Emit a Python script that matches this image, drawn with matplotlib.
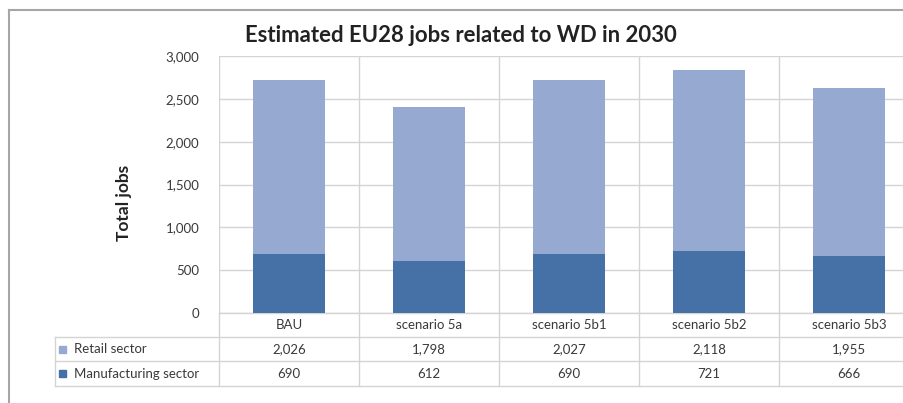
import matplotlib.pyplot as plt
from matplotlib.lines import Line2D
from matplotlib.patches import Rectangle

categories = ['BAU', 'scenario 5a', 'scenario 5b1', 'scenario 5b2', 'scenario 5b3']
retail = [2026, 1798, 2027, 2118, 1955]
manufacturing = [690, 612, 690, 721, 666]
series_names = ['Retail sector', 'Manufacturing sector']
y_ticks = [0, 500, 1000, 1500, 2000, 2500, 3000]

c_retail = '#95a9d1'
c_manuf = '#4571a7'
c_grid = '#d4d4d4'
c_text = '#3a3a3a'

W, H = 904, 403
plt.rcParams['font.family'] = ['Lato', 'DejaVu Sans']

fig = plt.figure(figsize=(W / 100, H / 100), dpi=100)

def fx(px):
    return px / W

def fy(py):
    return 1 - py / H

# plot area in pixels: left 219, right 919 (runs off the picture), top 56, bottom 313
left, right, top, bottom = 219, 919, 56, 313
ax = fig.add_axes([fx(left), fy(bottom), fx(right - left), (bottom - top) / H])

x = list(range(len(categories)))
ax.bar(x, manufacturing, width=0.51, color=c_manuf, zorder=3)
ax.bar(x, retail, width=0.51, bottom=manufacturing, color=c_retail, zorder=3)

ax.set_xlim(-0.5, len(categories) - 0.5)
ax.set_ylim(0, 3000)
ax.set_yticks(y_ticks)
ax.set_yticklabels([f'{v:,}' for v in y_ticks])
ax.tick_params(axis='y', length=0, pad=14, labelsize=9.5, labelcolor=c_text)
ax.set_xticks([])
for s in ax.spines.values():
    s.set_visible(False)
ax.grid(axis='y', color=c_grid, lw=1, zorder=0)
for b in [i - 0.5 for i in range(len(categories) + 1)]:
    ax.axvline(b, color=c_grid, lw=1, zorder=0)

# title and axis label
fig.text(fx(461), fy(36), 'Estimated EU28 jobs related to WD in 2030',
         ha='center', va='center', fontsize=15.9, fontweight='bold', color='#222222')
fig.text(fx(124), fy(203), 'Total jobs', rotation=90, ha='center', va='center',
         fontsize=12.5, fontweight='bold', color='#222222')

# data table under the axis
tr = ax.get_xaxis_transform()
row_y = [313, 337, 361, 386]

def ay(py):
    return (bottom - py) / (bottom - top)

for b in [i - 0.5 for i in range(len(categories) + 1)]:
    ax.add_line(Line2D([b, b], [ay(313), ay(386)], transform=tr, color=c_grid,
                       lw=1, clip_on=False))
for py in row_y:
    x0 = -0.5 if py == 313 else -0.5 - (left - 55) / 140
    ax.add_line(Line2D([x0, len(categories)], [ay(py), ay(py)], transform=tr,
                       color=c_grid, lw=1, clip_on=False))
x_head = -0.5 - (left - 55) / 140
ax.add_line(Line2D([x_head, x_head], [ay(337), ay(386)], transform=tr,
                   color=c_grid, lw=1, clip_on=False))

for i, cat in enumerate(categories):
    ax.text(i, ay(325), cat, transform=tr, ha='center', va='center',
            fontsize=9.5, color=c_text)
    ax.text(i, ay(349), f'{retail[i]:,}', transform=tr, ha='center', va='center',
            fontsize=9.5, color=c_text)
    ax.text(i, ay(373.5), f'{manufacturing[i]:,}', transform=tr, ha='center',
            va='center', fontsize=9.5, color=c_text)

for name, col, py in zip(series_names, [c_retail, c_manuf], [349, 373.5]):
    fig.patches.append(Rectangle((fx(59), fy(py + 3.5)), fx(7), 7 / H,
                                 transform=fig.transFigure, color=col))
    fig.text(fx(74), fy(py), name, ha='left', va='center', fontsize=9.5, color=c_text)

# outer chart border
fig.add_artist(Line2D([fx(9), fx(9)], [fy(10), 0], color='#a6a6a6', lw=1.5))
fig.add_artist(Line2D([fx(9), 1], [fy(10), fy(10)], color='#a6a6a6', lw=1.5))

fig.savefig('out.png', dpi=100)
